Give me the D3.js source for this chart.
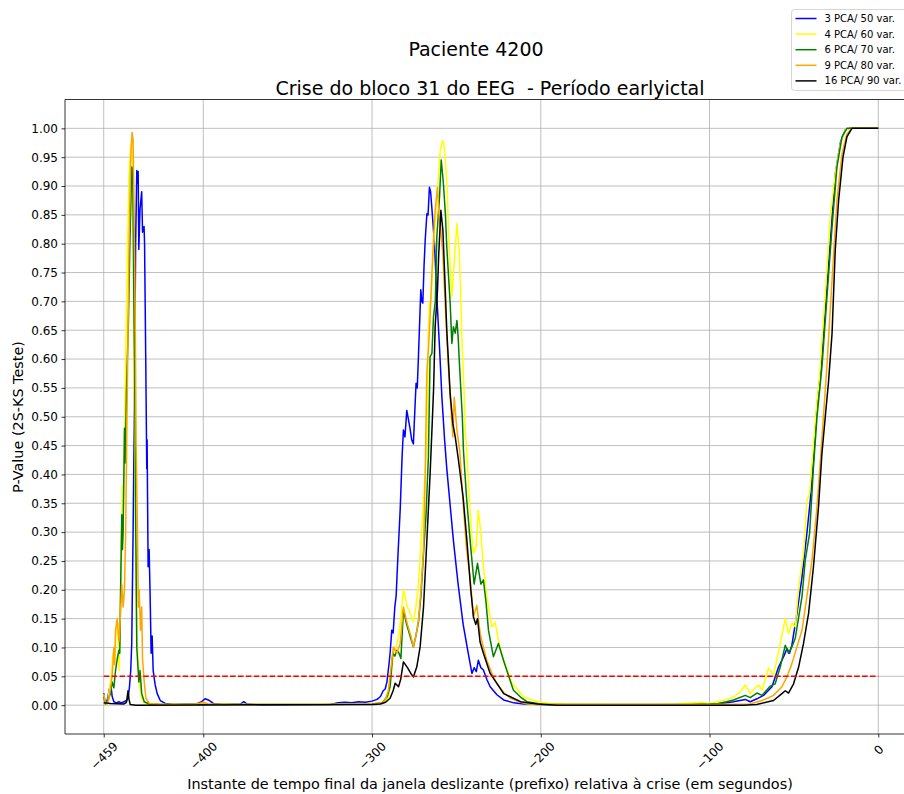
<!DOCTYPE html>
<html>
<head>
<meta charset="utf-8">
<script src="https://cdn.jsdelivr.net/npm/d3@7"></script>
<style>
  body { margin: 0; background: white; }
  svg { display: block; font-family: "DejaVu Sans", sans-serif; }
</style>
</head>
<body>
<svg id="chart" width="904" height="794"></svg>
<script>
// --- data: [instante (s), p-value] ---
const pca3 = [[-459,0.021],[-458.2,0.003],[-457,0.008],[-455.5,0.03],[-454.8,0.036],[-454,0.015],[-453,0.006],[-451.5,0.004],[-450,0.006],[-448.5,0.004],[-447,0.006],[-445.5,0.008],[-444.6,0.012],[-443.8,0.03],[-443,0.06],[-442.4,0.107],[-441.6,0.3],[-440.8,0.52],[-440.1,0.8],[-439.4,0.927],[-439,0.905],[-438.6,0.925],[-438.2,0.79],[-437.5,0.86],[-436.5,0.89],[-436,0.82],[-435.1,0.83],[-434.8,0.8],[-434.1,0.6],[-433.5,0.41],[-433.3,0.46],[-432.7,0.24],[-432.1,0.27],[-431.5,0.19],[-430.9,0.09],[-430.3,0.12],[-429.7,0.06],[-428.5,0.035],[-427.3,0.02],[-425.5,0.008],[-422.6,0.003],[-418,0.001],[-404,0.002],[-401,0.006],[-399,0.011],[-397,0.009],[-394,0.003],[-388,0.001],[-378,0.002],[-376,0.006],[-374,0.002],[-365,0],[-325,0.001],[-320,0.004],[-316,0.005],[-312,0.004],[-308,0.006],[-304,0.005],[-300,0.007],[-297,0.01],[-295,0.015],[-293.4,0.025],[-292.2,0.028],[-291.2,0.04],[-290,0.07],[-289.3,0.09],[-288.3,0.13],[-287.5,0.125],[-286.5,0.17],[-285.7,0.19],[-284.8,0.25],[-283.3,0.34],[-282.2,0.43],[-281.4,0.477],[-280.5,0.465],[-279.4,0.511],[-277.5,0.48],[-276.5,0.46],[-275.5,0.453],[-274.5,0.52],[-273.9,0.558],[-273.2,0.55],[-272.5,0.604],[-271.1,0.72],[-270.5,0.7],[-269.9,0.697],[-269.2,0.76],[-268.5,0.806],[-267.5,0.852],[-266.8,0.85],[-266,0.898],[-265.3,0.89],[-264.6,0.864],[-263,0.8],[-261.6,0.708],[-260,0.62],[-258.6,0.534],[-257,0.46],[-255.7,0.41],[-253.5,0.34],[-251.8,0.286],[-249,0.21],[-246,0.14],[-243,0.09],[-240.8,0.055],[-239.5,0.065],[-238.2,0.058],[-237,0.078],[-235.5,0.065],[-234,0.061],[-232,0.045],[-230,0.032],[-226,0.018],[-222,0.009],[-216,0.004],[-210,0.002],[-200,0.001],[-150,0],[-110,0.001],[-95,0.002],[-90,0.004],[-85.8,0.006],[-78.8,0.01],[-75.9,0.006],[-71.9,0.011],[-68,0.017],[-63,0.032],[-59.1,0.066],[-56.1,0.084],[-54.1,0.098],[-52.6,0.09],[-51.2,0.104],[-48.2,0.159],[-45.2,0.222],[-42.3,0.298],[-40.3,0.355],[-38.4,0.425],[-36.3,0.52],[-33.4,0.6],[-31,0.7],[-28.5,0.8],[-25.5,0.92],[-22.5,0.975],[-19.6,0.997],[-17,1],[0,1]];

const pca4 = [[-459,0.018],[-458.2,0.002],[-457.5,0.001],[-456.5,0.01],[-455.5,0.03],[-454.5,0.05],[-453.5,0.09],[-452.7,0.07],[-451.7,0.13],[-450.7,0.14],[-449.9,0.06],[-449,0.2],[-448,0.38],[-447.5,0.34],[-447,0.42],[-446,0.6],[-445,0.78],[-444,0.92],[-443,0.97],[-442.4,0.98],[-441.8,0.9],[-441,0.6],[-440.3,0.3],[-439.5,0.12],[-438.5,0.07],[-437.5,0.03],[-436.5,0.012],[-435,0.004],[-430,0.002],[-420,0.001],[-330,0.001],[-300,0.002],[-295,0.003],[-292,0.006],[-290.3,0.015],[-289,0.04],[-287.3,0.09],[-286,0.1],[-284.3,0.118],[-283,0.15],[-281.4,0.2],[-279,0.17],[-277,0.155],[-275.5,0.144],[-274,0.17],[-272.5,0.21],[-271,0.28],[-269.5,0.355],[-268.5,0.4],[-267.5,0.46],[-266.6,0.65],[-266,0.697],[-265,0.7],[-263.6,0.794],[-262,0.86],[-260.6,0.921],[-259.6,0.962],[-258.2,0.979],[-257.5,0.975],[-256.7,0.95],[-255.5,0.9],[-254.7,0.823],[-253.7,0.76],[-252.7,0.708],[-251.3,0.766],[-249.7,0.835],[-248.4,0.789],[-247.5,0.72],[-246.8,0.638],[-245.5,0.55],[-244.8,0.477],[-243.8,0.44],[-242,0.34],[-240.8,0.29],[-239.9,0.263],[-238.3,0.274],[-237,0.338],[-235.5,0.298],[-234,0.24],[-232,0.188],[-229,0.136],[-227,0.144],[-225,0.11],[-222,0.078],[-217,0.038],[-210,0.014],[-202,0.006],[-194,0.003],[-185,0.002],[-160,0.001],[-130,0.001],[-120,0.002],[-110,0.004],[-105,0.005],[-100,0.003],[-95.6,0.006],[-90,0.01],[-85.8,0.014],[-82,0.022],[-78.8,0.035],[-75.9,0.02],[-73,0.03],[-70.9,0.035],[-68.9,0.026],[-67,0.045],[-65,0.064],[-62.1,0.052],[-60,0.08],[-58.5,0.101],[-56.5,0.13],[-55.1,0.15],[-53.2,0.124],[-51.2,0.142],[-49.2,0.136],[-47.2,0.205],[-44.3,0.263],[-42.3,0.355],[-40.7,0.367],[-39.3,0.419],[-36.3,0.528],[-35,0.56],[-33.4,0.633],[-31.4,0.714],[-28.5,0.846],[-25.5,0.921],[-22.5,0.973],[-19.6,0.997],[-16.6,1],[0,1]];

const pca6 = [[-459,0.015],[-458,0.002],[-457,0.005],[-455,0.02],[-454,0.04],[-453,0.03],[-452,0.06],[-451,0.08],[-450,0.095],[-449.5,0.09],[-449,0.2],[-448.3,0.33],[-447.9,0.27],[-447.5,0.3],[-446.7,0.48],[-446.3,0.42],[-445.5,0.55],[-444.4,0.66],[-443.5,0.8],[-442.4,0.933],[-441.8,0.93],[-441.2,0.72],[-440.6,0.55],[-440,0.3],[-439.4,0.1],[-438.8,0.07],[-438.2,0.04],[-437.5,0.06],[-436.5,0.02],[-435,0.006],[-432,0.002],[-425,0.001],[-330,0.001],[-300,0.002],[-294,0.004],[-291,0.015],[-289.3,0.032],[-287.7,0.09],[-286.5,0.085],[-285.3,0.095],[-284,0.09],[-282.9,0.081],[-281.4,0.165],[-279.5,0.14],[-277,0.115],[-275.5,0.101],[-274,0.12],[-272.5,0.144],[-271,0.19],[-269.5,0.263],[-268,0.33],[-266.6,0.43],[-265.6,0.604],[-264.5,0.61],[-263.6,0.673],[-262.5,0.7],[-261.6,0.812],[-260,0.881],[-259,0.945],[-258.5,0.93],[-257.7,0.904],[-256.5,0.85],[-255.7,0.794],[-253.7,0.697],[-252.7,0.627],[-251.8,0.656],[-250.7,0.645],[-249.7,0.667],[-249,0.64],[-248.2,0.592],[-246.5,0.5],[-245.8,0.44],[-244,0.36],[-242,0.29],[-240.8,0.251],[-239.5,0.21],[-237.5,0.246],[-235.5,0.21],[-234,0.217],[-232.5,0.18],[-231,0.13],[-228.1,0.084],[-225.1,0.107],[-222.1,0.078],[-219,0.05],[-216.2,0.026],[-212,0.014],[-208.2,0.006],[-198.4,0.001],[-110,0.001],[-100,0.002],[-95,0.003],[-90,0.006],[-85.8,0.009],[-78.8,0.017],[-75.9,0.013],[-71.9,0.021],[-68.9,0.017],[-64,0.033],[-61.1,0.037],[-58.1,0.066],[-55.1,0.104],[-53.2,0.09],[-51.2,0.101],[-49.2,0.116],[-45.2,0.188],[-43.3,0.251],[-40.7,0.298],[-38.4,0.413],[-36.3,0.5],[-33.4,0.586],[-30.4,0.708],[-27.4,0.829],[-24.5,0.933],[-21.5,0.985],[-18.6,1],[0,1]];

const pca9 = [[-459,0.02],[-458,0.003],[-457,0.002],[-456,0.01],[-455,0.03],[-454,0.05],[-453,0.1],[-452.5,0.07],[-452,0.13],[-451,0.15],[-450,0.11],[-449.5,0.13],[-448.3,0.21],[-447.5,0.17],[-446.7,0.2],[-446,0.3],[-445,0.55],[-444,0.8],[-443,0.95],[-442.2,0.993],[-441.6,0.98],[-441,0.85],[-440.4,0.7],[-439.8,0.45],[-439,0.3],[-438.5,0.17],[-438,0.2],[-437.2,0.13],[-436.5,0.17],[-436,0.08],[-435,0.04],[-434,0.012],[-432,0.003],[-425,0.001],[-405,0.001],[-400,0.005],[-397,0.002],[-380,0.001],[-330,0.001],[-300,0.002],[-294,0.004],[-292,0.01],[-290.3,0.026],[-289,0.06],[-287.3,0.101],[-285.3,0.09],[-283.3,0.107],[-281.4,0.17],[-279,0.14],[-277,0.12],[-275.5,0.101],[-274,0.12],[-272.5,0.147],[-271,0.2],[-269.5,0.269],[-268.5,0.4],[-267.5,0.58],[-266.5,0.62],[-265.6,0.673],[-264.5,0.75],[-263,0.84],[-262.6,0.858],[-261.2,0.898],[-260.2,0.846],[-259.2,0.823],[-258,0.78],[-256.7,0.697],[-255,0.6],[-253.7,0.534],[-252.1,0.465],[-251.3,0.534],[-249.7,0.477],[-248,0.44],[-246,0.35],[-244,0.27],[-241.9,0.222],[-239.9,0.153],[-237.9,0.173],[-235.9,0.124],[-234,0.1],[-232,0.078],[-228,0.048],[-226,0.038],[-222,0.022],[-218,0.012],[-212,0.005],[-208,0.002],[-200,0.001],[-100,0.001],[-75.9,0.002],[-68,0.009],[-62.1,0.017],[-57.1,0.032],[-54.1,0.049],[-51.2,0.072],[-48.2,0.101],[-45.2,0.13],[-42.3,0.188],[-39.3,0.251],[-36.3,0.344],[-34.4,0.42],[-32.5,0.5],[-30.4,0.59],[-27.4,0.737],[-24.5,0.875],[-21.5,0.956],[-18.6,0.99],[-15.6,1],[0,1]];

const pca16 = [[-459,0.004],[-455,0.003],[-447,0.002],[-445.5,0.005],[-444.6,0.025],[-444,0.01],[-443.3,0.001],[-440,0],[-300,0.001],[-295,0.002],[-292,0.005],[-289.3,0.012],[-287.5,0.025],[-286.3,0.038],[-284.3,0.032],[-283,0.045],[-281.4,0.075],[-279,0.065],[-277,0.055],[-275.5,0.049],[-273.5,0.066],[-271.5,0.101],[-269.5,0.17],[-267.5,0.286],[-265.6,0.4],[-264.6,0.47],[-263.5,0.55],[-262.6,0.656],[-261.2,0.72],[-260.5,0.78],[-259.2,0.858],[-258,0.823],[-257,0.75],[-255.7,0.65],[-253.7,0.54],[-252.1,0.488],[-250.7,0.465],[-248.8,0.425],[-246,0.36],[-243.8,0.286],[-241.5,0.2],[-239.9,0.153],[-238.5,0.14],[-237.5,0.15],[-236,0.11],[-234,0.09],[-230,0.055],[-222,0.02],[-212,0.006],[-202,0.002],[-190,0],[-80,0],[-72,0.001],[-62.1,0.008],[-57.1,0.02],[-55.1,0.025],[-53.2,0.021],[-50.2,0.037],[-47.2,0.066],[-44.3,0.107],[-41.3,0.159],[-38.4,0.24],[-35.4,0.344],[-33.4,0.436],[-31.4,0.5],[-29.5,0.56],[-27.4,0.644],[-25.5,0.789],[-23.5,0.875],[-20.9,0.95],[-18.6,0.985],[-15.6,1],[0,1]];

const seriesNames = ["3 PCA/ 50 var.", "4 PCA/ 60 var.", "6 PCA/ 70 var.", "9 PCA/ 80 var.", "16 PCA/ 90 var."];
const seriesColors = ["#0000ff", "#ffff00", "#008000", "#ffa500", "#000000"];
const seriesData = [pca3, pca4, pca6, pca9, pca16];

const xTicks = [-459, -400, -300, -200, -100, 0];
const yTicks = d3.range(0, 1.0001, 0.05);
const threshold = 0.05;

// --- layout ---
const plotLeft = 65, plotRight = 917, plotTop = 99.5, plotBottom = 734;

const svg = d3.select("#chart");

const x = d3.scaleLinear().domain([-481.95, 22.95]).range([plotLeft, plotRight]);
const y = d3.scaleLinear().domain([-0.05, 1.05]).range([plotBottom, plotTop]);

svg.append("defs").append("clipPath").attr("id", "plot-clip")
  .append("rect").attr("x", plotLeft).attr("y", plotTop)
  .attr("width", plotRight - plotLeft).attr("height", plotBottom - plotTop);

// grid
const grid = svg.append("g").attr("stroke", "#b0b0b0").attr("stroke-width", 0.8);
grid.selectAll("line.gy").data(yTicks).join("line")
  .attr("x1", plotLeft).attr("x2", plotRight)
  .attr("y1", d => y(d)).attr("y2", d => y(d));
grid.selectAll("line.gx").data(xTicks).join("line")
  .attr("x1", d => x(d)).attr("x2", d => x(d))
  .attr("y1", plotTop).attr("y2", plotBottom);

// series
const line = d3.line().x(d => x(d[0])).y(d => y(d[1]));
const plot = svg.append("g").attr("clip-path", "url(#plot-clip)");
seriesData.forEach((data, i) => {
  plot.append("path")
    .attr("d", line(data))
    .attr("fill", "none")
    .attr("stroke", seriesColors[i])
    .attr("stroke-width", 1.5)
    .attr("stroke-linejoin", "round");
});

// threshold line
plot.append("line")
  .attr("x1", x(-459)).attr("x2", x(0))
  .attr("y1", y(threshold)).attr("y2", y(threshold))
  .attr("stroke", "#ff0000").attr("stroke-width", 1.5)
  .attr("stroke-dasharray", "5.5,2.4");

// axes
const yAxis = d3.axisLeft(y).tickValues(yTicks).tickSize(3.5).tickPadding(3.5)
  .tickFormat(d3.format(".2f"));
const gy = svg.append("g").attr("transform", `translate(${plotLeft},0)`).call(yAxis);
gy.select(".domain").remove();
gy.selectAll("text").attr("font-size", 12).attr("font-family", "DejaVu Sans").attr("fill", "#000");
gy.selectAll("line").attr("stroke", "#000").attr("stroke-width", 0.8);

const xAxis = d3.axisBottom(x).tickValues(xTicks).tickSize(3.5)
  .tickFormat(d => d3.format("d")(d).replace("-", "\u2212"));
const gx = svg.append("g").attr("transform", `translate(0,${plotBottom})`).call(xAxis);
gx.select(".domain").remove();
gx.selectAll("line").attr("stroke", "#000").attr("stroke-width", 0.8);
gx.selectAll("text")
  .attr("font-size", 12).attr("font-family", "DejaVu Sans").attr("fill", "#000")
  .attr("text-anchor", "middle").attr("dominant-baseline", "central")
  .attr("y", 0).attr("dy", null)
  .attr("transform", d => `translate(0,${d === 0 ? 16 : 22}) rotate(-45)`);

// spines
svg.append("line").attr("x1", plotLeft).attr("x2", plotLeft).attr("y1", plotTop).attr("y2", plotBottom)
  .attr("stroke", "#000").attr("stroke-width", 0.8);
svg.append("line").attr("x1", plotLeft).attr("x2", plotRight).attr("y1", plotBottom).attr("y2", plotBottom)
  .attr("stroke", "#000").attr("stroke-width", 0.8);
svg.append("line").attr("x1", plotLeft).attr("x2", plotRight).attr("y1", plotTop).attr("y2", plotTop)
  .attr("stroke", "#000").attr("stroke-width", 0.8);

// titles
svg.append("text").attr("x", 476).attr("y", 56).attr("text-anchor", "middle")
  .attr("font-size", 19).text("Paciente 4200");
svg.append("text").attr("x", 490).attr("y", 95).attr("text-anchor", "middle")
  .attr("font-size", 19).style("white-space", "pre")
  .text("Crise do bloco 31 do EEG  - Período earlyictal");

svg.append("text").attr("x", 490).attr("y", 789).attr("text-anchor", "middle")
  .attr("font-size", 14.4)
  .text("Instante de tempo final da janela deslizante (prefixo) relativa à crise (em segundos)");
svg.append("text").attr("transform", "translate(23,417) rotate(-90)")
  .attr("text-anchor", "middle").attr("font-size", 14.4)
  .text("P-Value (2S-KS Teste)");

// legend
const lg = svg.append("g").attr("transform", "translate(791.5,9.5)");
lg.append("rect").attr("width", 130).attr("height", 81).attr("rx", 3)
  .attr("fill", "white").attr("fill-opacity", 0.8)
  .attr("stroke", "#cccccc").attr("stroke-width", 0.8);
const legendTexts = seriesNames.map((name, i) => {
  const cy = 9 + i * 15.6;
  lg.append("line").attr("x1", 4).attr("x2", 25).attr("y1", cy).attr("y2", cy)
    .attr("stroke", seriesColors[i]).attr("stroke-width", 1.5);
  return lg.append("text").attr("x", 33).attr("y", cy).attr("dy", "0.35em")
    .attr("font-size", 11).text(name);
});
// the longest label has to end right at the picture's edge
const longest = legendTexts[4].node().getComputedTextLength();
const legendSize = Math.min(12, 11 * 77 / longest);
legendTexts.forEach(t => t.attr("font-size", legendSize));
</script>
</body>
</html>
